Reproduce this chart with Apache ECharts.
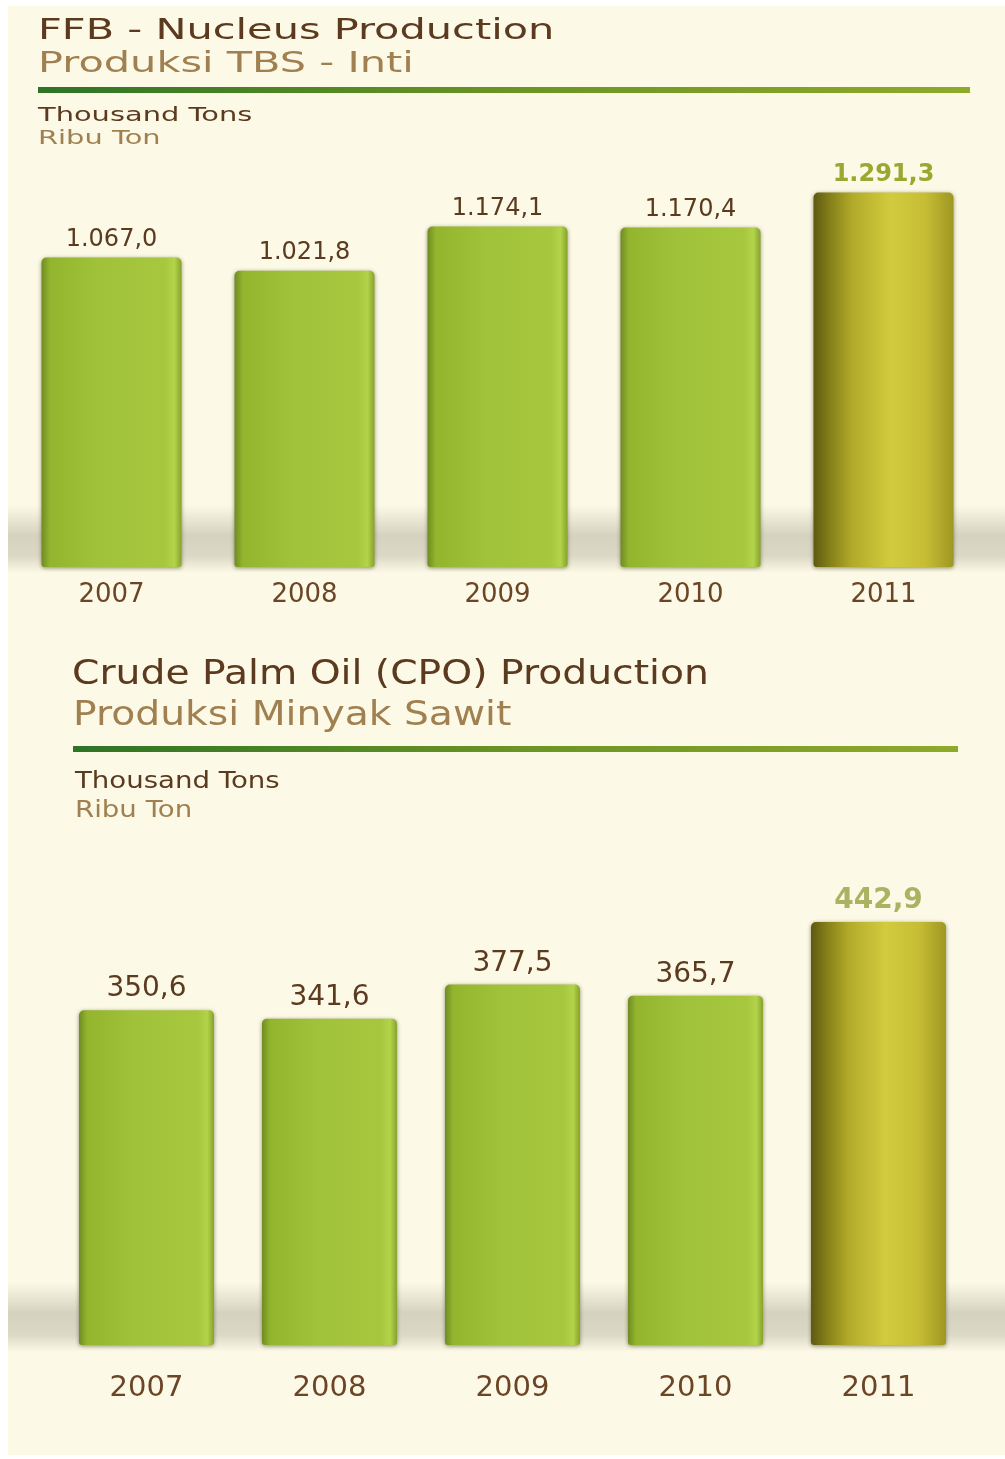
<!DOCTYPE html>
<html>
<head>
<meta charset="utf-8">
<script src="https://cdn.jsdelivr.net/npm/echarts@6/dist/echarts.min.js"></script>
<style>
html,body{margin:0;padding:0;background:#ffffff;}
#chart{width:1005px;height:1459px;}
</style>
</head>
<body>
<div id="chart"></div>
<script>
// ---- Data ----
const years = ['2007', '2008', '2009', '2010', '2011'];
const ffbValues = [1067.0, 1021.8, 1174.1, 1170.4, 1291.3];
const cpoValues = [350.6, 341.6, 377.5, 365.7, 442.9];
const ffbTitle = 'FFB - Nucleus Production';
const ffbSubtitle = 'Produksi TBS - Inti';
const cpoTitle = 'Crude Palm Oil (CPO) Production';
const cpoSubtitle = 'Produksi Minyak Sawit';
const unitEn = 'Thousand Tons';
const unitId = 'Ribu Ton';

// ---- Styles ----
const BROWN = '#5b3a1f';
const LIGHT_BROWN = '#a08050';
const FONT = 'DejaVu Sans';

function fmtId(v) {
  const parts = v.toFixed(1).split('.');
  const intPart = parts[0].replace(/\B(?=(\d{3})+(?!\d))/g, '.');
  return intPart + ',' + parts[1];
}

const greenFill = new echarts.graphic.LinearGradient(0, 0, 1, 0, [
  { offset: 0, color: '#6f8c22' },
  { offset: 0.06, color: '#93b52e' },
  { offset: 0.4, color: '#a0c23a' },
  { offset: 0.88, color: '#a6c73e' },
  { offset: 0.95, color: '#b3d34a' },
  { offset: 1, color: '#86a32c' }
]);
const goldFill = new echarts.graphic.LinearGradient(0, 0, 1, 0, [
  { offset: 0, color: '#5e5a10' },
  { offset: 0.12, color: '#858019' },
  { offset: 0.28, color: '#b2ab2a' },
  { offset: 0.55, color: '#d2cb3e' },
  { offset: 0.8, color: '#c6bd35' },
  { offset: 1, color: '#9e9722' }
]);

function buildData(values, lastColor) {
  return values.map((v, i) => {
    const last = i === values.length - 1;
    return {
      value: v,
      itemStyle: { color: last ? goldFill : greenFill },
      label: last ? { color: lastColor, fontWeight: 'bold' } : {}
    };
  });
}

function shadowBand(top, height) {
  return {
    type: 'rect', z: -5,
    shape: { x: 8, y: top, width: 997, height: height },
    style: {
      fill: new echarts.graphic.LinearGradient(0, 0, 0, 1, [
        { offset: 0, color: 'rgba(150,146,128,0)' },
        { offset: 0.45, color: 'rgba(150,146,128,0.38)' },
        { offset: 0.75, color: 'rgba(150,146,128,0.32)' },
        { offset: 1, color: 'rgba(150,146,128,0)' }
      ])
    }
  };
}

function ruleLine(x, y, w) {
  return {
    type: 'rect', z: 1,
    shape: { x: x, y: y, width: w, height: 6 },
    style: {
      fill: new echarts.graphic.LinearGradient(0, 0, 1, 0, [
        { offset: 0, color: '#2f7326' },
        { offset: 0.5, color: '#6a9424' },
        { offset: 1, color: '#8eaa2a' }
      ])
    }
  };
}

function txt(text, x, y, size, color, scale) {
  return {
    type: 'text', z: 2, x: x, y: y, scaleX: scale,
    style: { text: text, font: size + 'px "' + FONT + '"', fill: color, textAlign: 'left', textVerticalAlign: 'middle' }
  };
}

const chart = echarts.init(document.getElementById('chart'), null, { renderer: 'canvas' });

const option = {
  backgroundColor: '#ffffff',
  animation: false,
  graphic: [
    { type: 'rect', z: -10, shape: { x: 8, y: 6, width: 997, height: 1449 }, style: { fill: '#fcf9e6' } },
    shadowBand(505, 68),
    shadowBand(1282, 70),
    txt(ffbTitle, 38, 31, 29, BROWN, 1.43),
    txt(ffbSubtitle, 38, 64, 29, LIGHT_BROWN, 1.43),
    ruleLine(38, 87, 932),
    txt(unitEn, 38, 116, 19, BROWN, 1.52),
    txt(unitId, 38, 139, 19, LIGHT_BROWN, 1.52),
    txt(cpoTitle, 72, 675, 33, BROWN, 1.19),
    txt(cpoSubtitle, 73, 716, 33, LIGHT_BROWN, 1.19),
    ruleLine(73, 746, 885),
    txt(unitEn, 75, 782, 23, BROWN, 1.2),
    txt(unitId, 75, 811, 23, LIGHT_BROWN, 1.2)
  ],
  grid: [
    { left: 15, width: 965, top: 161, height: 406 },
    { left: 55, width: 915, top: 867.5, height: 477.5 }
  ],
  xAxis: [
    {
      gridIndex: 0, type: 'category', data: years,
      axisLine: { show: false }, axisTick: { show: false },
      axisLabel: { color: '#6b4526', fontFamily: FONT, fontSize: 26, margin: 15 }
    },
    {
      gridIndex: 1, type: 'category', data: years,
      axisLine: { show: false }, axisTick: { show: false },
      axisLabel: { color: '#6b4526', fontFamily: FONT, fontSize: 29, margin: 29 }
    }
  ],
  yAxis: [
    { gridIndex: 0, type: 'value', min: 0, max: 1400, show: false, splitLine: { show: false } },
    { gridIndex: 1, type: 'value', min: 0, max: 500, show: false, splitLine: { show: false } }
  ],
  series: [
    {
      type: 'bar', xAxisIndex: 0, yAxisIndex: 0,
      barWidth: 140,
      data: buildData(ffbValues, '#9aa832'),
      itemStyle: { borderRadius: [5, 5, 3, 3], shadowBlur: 4, shadowColor: 'rgba(60,60,20,0.55)', shadowOffsetY: 1 },
      label: {
        show: true, position: 'top', distance: 6,
        color: BROWN, fontFamily: FONT, fontSize: 24,
        formatter: p => fmtId(p.value)
      }
    },
    {
      type: 'bar', xAxisIndex: 1, yAxisIndex: 1,
      barWidth: 135,
      data: buildData(cpoValues, '#a9b463'),
      itemStyle: { borderRadius: [5, 5, 3, 3], shadowBlur: 4, shadowColor: 'rgba(60,60,20,0.55)', shadowOffsetY: 1 },
      label: {
        show: true, position: 'top', distance: 7,
        color: BROWN, fontFamily: FONT, fontSize: 28,
        formatter: p => fmtId(p.value)
      }
    }
  ]
};

chart.setOption(option);
</script>
</body>
</html>
